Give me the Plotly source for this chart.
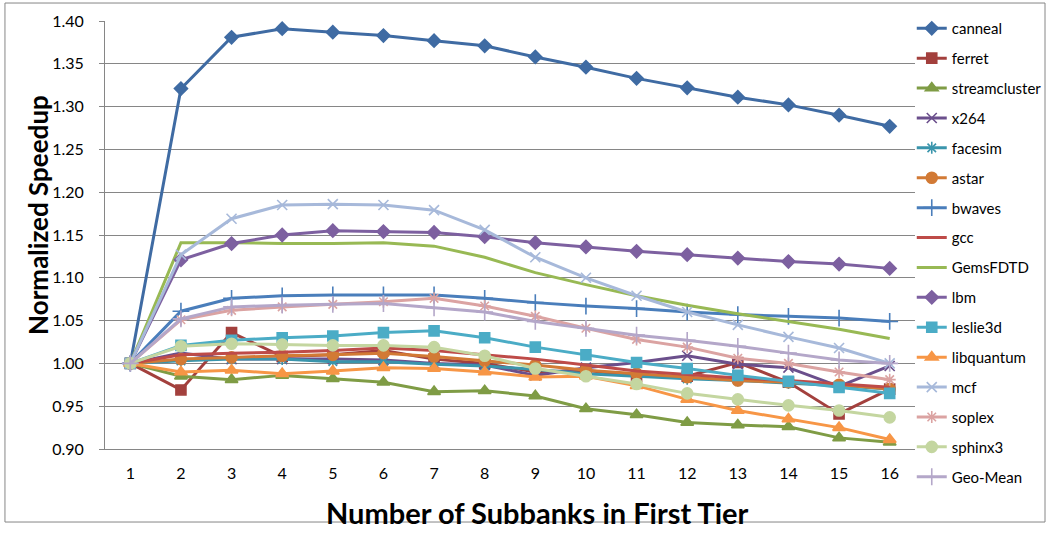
import plotly.graph_objects as go

subbanks = list(range(1, 17))
tick_labels = [str(i) for i in subbanks]

canneal = [1.000, 1.321, 1.381, 1.391, 1.387, 1.383, 1.377, 1.371, 1.358, 1.346, 1.333, 1.322, 1.311, 1.302, 1.290, 1.277]
ferret = [1.000, 0.969, 1.036, 1.008, 1.010, 1.015, 1.005, 1.000, 0.990, 0.992, 0.985, 0.985, 1.001, 0.978, 0.941, 0.970]
streamcluster = [1.000, 0.985, 0.981, 0.986, 0.982, 0.978, 0.967, 0.968, 0.962, 0.947, 0.940, 0.931, 0.928, 0.926, 0.913, 0.908]
x264 = [1.000, 1.012, 1.005, 1.005, 1.005, 1.004, 1.000, 0.998, 0.986, 0.995, 1.001, 1.009, 0.999, 0.995, 0.973, 0.997]
facesim = [1.000, 1.003, 1.005, 1.005, 1.002, 1.002, 0.999, 0.997, 0.993, 0.988, 0.985, 0.982, 0.980, 0.977, 0.974, 0.970]
astar = [1.000, 1.005, 1.007, 1.009, 1.010, 1.012, 1.008, 1.003, 0.998, 0.992, 0.988, 0.984, 0.980, 0.978, 0.975, 0.970]
bwaves = [1.000, 1.061, 1.076, 1.079, 1.080, 1.080, 1.080, 1.076, 1.071, 1.067, 1.064, 1.060, 1.057, 1.055, 1.053, 1.049]
gcc = [1.000, 1.010, 1.012, 1.013, 1.015, 1.018, 1.015, 1.010, 1.005, 0.998, 0.991, 0.987, 0.983, 0.980, 0.976, 0.972]
gems = [1.000, 1.141, 1.141, 1.140, 1.140, 1.141, 1.137, 1.124, 1.106, 1.092, 1.079, 1.068, 1.058, 1.049, 1.040, 1.029]
lbm = [1.000, 1.121, 1.140, 1.150, 1.155, 1.154, 1.153, 1.148, 1.141, 1.136, 1.131, 1.127, 1.123, 1.119, 1.116, 1.111]
leslie3d = [1.000, 1.021, 1.027, 1.030, 1.032, 1.036, 1.038, 1.030, 1.019, 1.010, 1.001, 0.994, 0.986, 0.979, 0.972, 0.965]
libquantum = [1.000, 0.990, 0.992, 0.988, 0.991, 0.995, 0.994, 0.990, 0.984, 0.985, 0.974, 0.958, 0.945, 0.935, 0.925, 0.911]
mcf = [1.000, 1.127, 1.169, 1.185, 1.186, 1.185, 1.179, 1.156, 1.124, 1.100, 1.079, 1.060, 1.045, 1.031, 1.018, 1.000]
soplex = [1.000, 1.051, 1.062, 1.066, 1.069, 1.072, 1.076, 1.067, 1.055, 1.041, 1.028, 1.019, 1.006, 1.000, 0.990, 0.981]
sphinx3 = [1.000, 1.020, 1.023, 1.022, 1.021, 1.021, 1.019, 1.009, 0.994, 0.985, 0.976, 0.965, 0.958, 0.951, 0.945, 0.937]
geomean = [1.000, 1.052, 1.066, 1.068, 1.069, 1.070, 1.065, 1.060, 1.049, 1.041, 1.033, 1.027, 1.020, 1.012, 1.004, 1.000]

x_title = "Number of Subbanks in First Tier"
y_title = "Normalized Speedup"

series = [
    ("canneal", canneal, "#3F6BA3", "diamond", 10),
    ("ferret", ferret, "#A3403D", "square", 10),
    ("streamcluster", streamcluster, "#7F9C45", "triangle-up", 11),
    ("x264", x264, "#6B4F8C", "x-thin", 10),
    ("facesim", facesim, "#3A95AC", "asterisk", 10),
    ("astar", astar, "#D27A35", "circle", 11),
    ("bwaves", bwaves, "#4A7EBB", "cross-thin", 12),
    ("gcc", gcc, "#BE4B48", None, 0),
    ("GemsFDTD", gems, "#98B954", None, 0),
    ("lbm", lbm, "#7D60A0", "diamond", 10),
    ("leslie3d", leslie3d, "#4BACC6", "square", 10),
    ("libquantum", libquantum, "#F79646", "triangle-up", 11),
    ("mcf", mcf, "#A7B9DA", "x-thin", 10),
    ("soplex", soplex, "#DBA3A2", "asterisk", 10),
    ("sphinx3", sphinx3, "#C4D6A0", "circle", 11),
    ("Geo-Mean", geomean, "#B4A7C9", "cross-thin", 12),
]

FONT = "Lato"
fig = go.Figure()
for i, (name, vals, color, sym, size) in enumerate(series):
    if sym is None:
        mode = "lines"
        marker = None
    else:
        mode = "lines+markers"
        marker = dict(symbol=sym, size=size, color=color,
                      line=dict(color=color, width=1.6))
    fig.add_trace(go.Scatter(
        x=subbanks, y=vals, name=name, mode=mode,
        line=dict(color=color, width=3),
        marker=marker, legendgroup=name,
    ))

fig.update_layout(
    width=1052, height=535,
    margin=dict(l=105, r=137, t=21, b=86, autoexpand=False),
    paper_bgcolor="white", plot_bgcolor="white",
    font=dict(family=FONT, size=15, color="#000000"),
    legend=dict(x=0.996, y=1.021, xanchor="left", yanchor="top",
                font=dict(family=FONT, size=15, color="#000000"),
                tracegroupgap=7.4, itemwidth=30, bgcolor="rgba(0,0,0,0)",
                maxheight=530),
    xaxis=dict(
        range=[0.5, 16.5], tickmode="array", tickvals=subbanks, ticktext=tick_labels,
        showgrid=False, showline=True, linecolor="#868686", linewidth=1,
        ticks="", tickfont=dict(family=FONT, size=16), ticklabelstandoff=10,
        zeroline=False,
    ),
    yaxis=dict(
        range=[0.90, 1.40], dtick=0.05, tickformat=".2f",
        showgrid=True, gridcolor="#868686", gridwidth=1,
        showline=True, linecolor="#868686", linewidth=1,
        ticks="outside", ticklen=5, tickcolor="#868686",
        tickfont=dict(family=FONT, size=16), ticklabelstandoff=12,
        zeroline=False,
    ),
)

fig.add_annotation(text="<b>" + x_title + "</b>", xref="paper", yref="paper",
                   x=0.533, y=-0.149, xanchor="center", yanchor="middle",
                   showarrow=False, font=dict(family=FONT, size=29, color="#000000"))
fig.add_annotation(text="<b>" + y_title + "</b>", xref="paper", yref="paper",
                   x=-0.0827, y=0.547, xanchor="center", yanchor="middle", textangle=-90,
                   showarrow=False, font=dict(family=FONT, size=26, color="#000000"))

fig.add_shape(type="rect", xref="paper", yref="paper",
              x0=-0.1235, x1=1.1605, y0=-0.1706, y1=1.042,
              line=dict(color="#868686", width=1), layer="below")

fig.write_html("out.html")
